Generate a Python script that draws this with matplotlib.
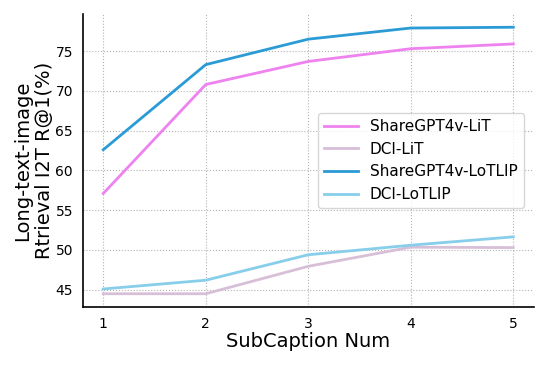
import matplotlib
matplotlib.use("Agg")
import matplotlib.pyplot as plt

# Data
subcaption_num = [1, 2, 3, 4, 5]
sharegpt_lit = [57.1, 70.8, 73.7, 75.3, 75.9]
dci_lit = [44.5, 44.5, 47.95, 50.35, 50.3]
sharegpt_lotlip = [62.6, 73.3, 76.5, 77.9, 78.0]
dci_lotlip = [45.1, 46.2, 49.4, 50.6, 51.65]

series = [
    ("ShareGPT4v-LiT", sharegpt_lit, "violet"),
    ("DCI-LiT", dci_lit, "thistle"),
    ("ShareGPT4v-LoTLIP", sharegpt_lotlip, "#2b9bd6"),
    ("DCI-LoTLIP", dci_lotlip, "skyblue"),
]

fig = plt.figure(figsize=(5.48, 3.66), dpi=100)
ax = fig.add_axes([0.151, 0.161, 0.823, 0.801])

for label, vals, color in series:
    ax.plot(subcaption_num, vals, color=color, linewidth=2, label=label)

ax.set_xticks(subcaption_num)
ax.set_yticks([45, 50, 55, 60, 65, 70, 75])
ax.tick_params(length=0, labelsize=10, pad=7)
ax.grid(True, linestyle=":", color="gray", alpha=0.6, linewidth=0.8)

for side in ("top", "right"):
    ax.spines[side].set_visible(False)
ax.spines["left"].set_linewidth(1.2)
ax.spines["bottom"].set_linewidth(1.2)

ax.set_xlabel("SubCaption Num", fontsize=14, labelpad=1)
ax.set_ylabel("Long-text-image\nRtrieval I2T R@1(%)", fontsize=14, labelpad=1)

ax.legend(loc="center right", fontsize=11, handlelength=2.2,
          bbox_to_anchor=(0.995, 0.50))

fig.savefig("out.png", dpi=100)
